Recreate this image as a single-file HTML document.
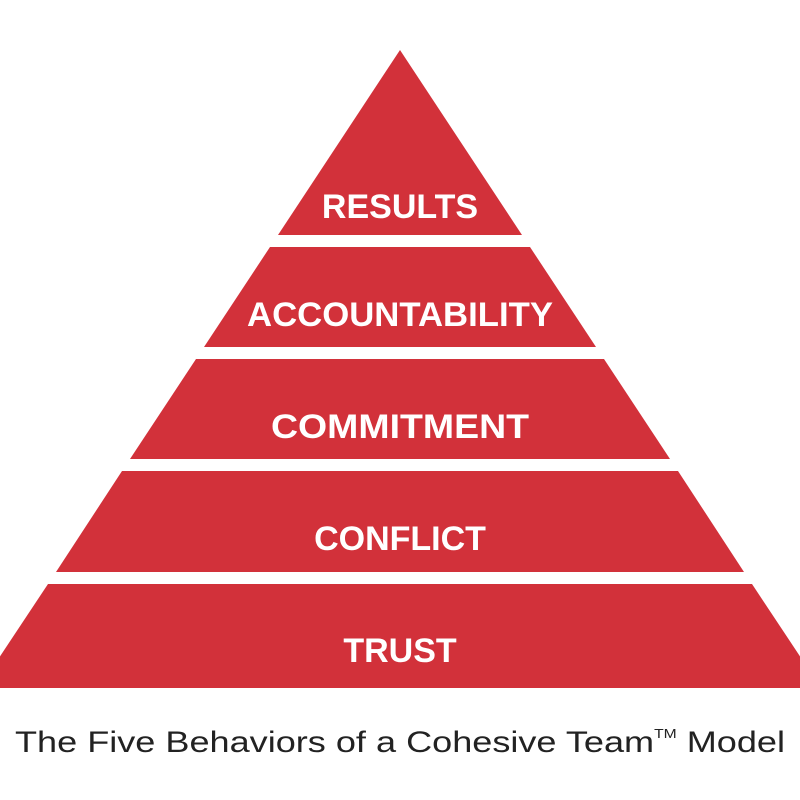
<!DOCTYPE html>
<html><head><style>
body{margin:0;background:#fff;width:800px;height:800px;overflow:hidden}
svg{display:block}
</style></head><body>
<svg width="800" height="800" viewBox="0 0 800 800" xmlns="http://www.w3.org/2000/svg">
<g fill="#d2313a">
<polygon points="400,50 522,235 278,235"/>
<polygon points="270,247 530,247 596,347 204,347"/>
<polygon points="196,359 604,359 670,459 130,459"/>
<polygon points="122,471 678,471 744,572 56,572"/>
<polygon points="48,584 752,584 821,688 -21,688"/>
</g>
<g fill="#fff" font-family="Liberation Sans, sans-serif" font-weight="bold" font-size="34" text-anchor="middle">
<text x="400" y="218">RESULTS</text>
<text x="400" y="326" textLength="306" lengthAdjust="spacingAndGlyphs">ACCOUNTABILITY</text>
<text x="400" y="438" textLength="258" lengthAdjust="spacingAndGlyphs">COMMITMENT</text>
<text x="400" y="550">CONFLICT</text>
<text x="400" y="662">TRUST</text>
</g>
<text x="15" y="752" font-family="Liberation Sans, sans-serif" font-size="30" fill="#222" textLength="770" lengthAdjust="spacingAndGlyphs">The Five Behaviors of a Cohesive Team<tspan font-size="13" dy="-14">TM</tspan><tspan dy="14"> Model</tspan></text>
</svg>
</body></html>
